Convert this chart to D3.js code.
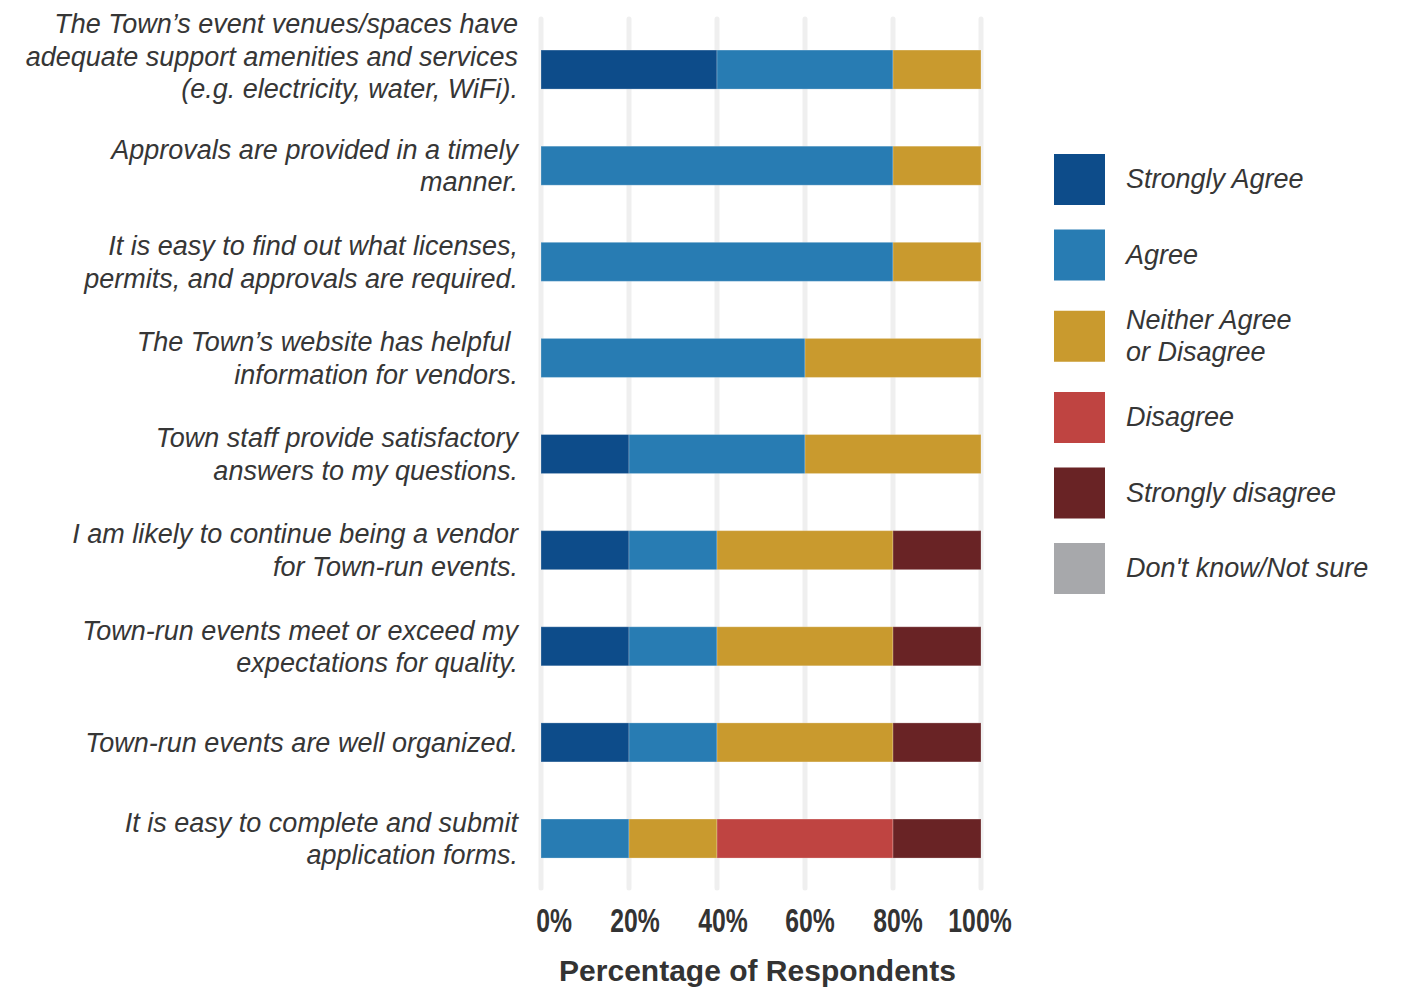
<!DOCTYPE html>
<html>
<head>
<meta charset="utf-8">
<script src="https://cdn.jsdelivr.net/npm/d3@7"></script>
<style>
  html, body { margin: 0; padding: 0; background: #ffffff; }
  svg { display: block; }
  .cat { font-family: "Liberation Sans", Arial, sans-serif; font-style: italic; font-size: 27px; fill: #363636; white-space: pre; }
  .leg { font-family: "Liberation Sans", Arial, sans-serif; font-style: italic; font-size: 27px; fill: #363636; }
  .tick-label { font-family: "Liberation Sans", Arial, sans-serif; font-weight: bold; font-size: 33px; fill: #333333; }
  .axis-title { font-family: "Liberation Sans", Arial, sans-serif; font-weight: bold; font-size: 30px; fill: #333333; }
</style>
</head>
<body>
<svg id="chart" width="1402" height="990"></svg>
<script>
// Survey statements, top to bottom (each entry is the wrapped lines of the label)
const categories = [
  ["The Town’s event venues/spaces have", "adequate support amenities and services", "(e.g. electricity, water, WiFi)."],
  ["Approvals are provided in a timely", "manner."],
  ["It is easy to find out what licenses,", "permits, and approvals are required."],
  ["The Town’s website has helpful ", "information for vendors."],
  ["Town staff provide satisfactory", "answers to my questions."],
  ["I am likely to continue being a vendor", "for Town-run events."],
  ["Town-run events meet or exceed my", "expectations for quality."],
  ["Town-run events are well organized."],
  ["It is easy to complete and submit", "application forms."]
];

// Response options (legend order) and their colours
const responses = ["Strongly Agree", "Agree", "Neither Agree or Disagree", "Disagree", "Strongly disagree", "Don't know/Not sure"];
const legendLines = [["Strongly Agree"], ["Agree"], ["Neither Agree", "or Disagree"], ["Disagree"], ["Strongly disagree"], ["Don't know/Not sure"]];
const colors = ["#0d4c8a", "#287cb3", "#c99a2e", "#bf4441", "#692325", "#a7a8ab"];

// Percentage of respondents for each response, one value per statement
const stronglyAgree    = [40,  0,  0,  0, 20, 20, 20, 20,  0];
const agree            = [40, 80, 80, 60, 40, 20, 20, 20, 20];
const neither          = [20, 20, 20, 40, 40, 40, 40, 40, 20];
const disagree         = [ 0,  0,  0,  0,  0,  0,  0,  0, 40];
const stronglyDisagree = [ 0,  0,  0,  0,  0, 20, 20, 20, 20];
const dontKnow         = [ 0,  0,  0,  0,  0,  0,  0,  0,  0];

const tickValues = [0, 20, 40, 60, 80, 100];
const tickLabels = ["0%", "20%", "40%", "60%", "80%", "100%"];

const seriesValues = [stronglyAgree, agree, neither, disagree, stronglyDisagree, dontKnow];
const rows = categories.map((lines, i) => {
  const r = { key: i, lines };
  responses.forEach((name, j) => { r[name] = seriesValues[j][i]; });
  return r;
});

const svg = d3.select("#chart");

const x = d3.scaleLinear().domain([0, 100]).range([541, 981]);
const y = d3.scaleBand()
  .domain(rows.map(d => d.key))
  .range([21.5, 886.6])
  .paddingInner(0.594)
  .paddingOuter(0.297);

// Vertical grid lines
svg.append("g")
  .selectAll("line")
  .data(tickValues)
  .join("line")
  .attr("x1", d => x(d)).attr("x2", d => x(d))
  .attr("y1", 19).attr("y2", 888)
  .attr("stroke", "#efefef")
  .attr("stroke-width", 5)
  .attr("stroke-linecap", "round");

// Stacked bars
const stacked = d3.stack().keys(responses)(rows);
const color = d3.scaleOrdinal().domain(responses).range(colors);

svg.append("g")
  .selectAll("g")
  .data(stacked)
  .join("g")
  .attr("fill", d => color(d.key))
  .selectAll("rect")
  .data(d => d.filter(s => s[1] - s[0] > 0))
  .join("rect")
  .attr("x", s => x(s[0]))
  .attr("width", s => x(s[1]) - x(s[0]))
  .attr("y", s => y(s.data.key))
  .attr("height", y.bandwidth())
  .attr("stroke", "rgba(255,255,255,0.25)")
  .attr("stroke-width", 1);

// Statement labels, right-aligned to the left of the bars.
// Blocks of up to two lines are centred on their bar; longer blocks sit higher.
const lineH = 32.5;
const catG = svg.append("g");
rows.forEach(r => {
  const cy = y(r.key) + y.bandwidth() / 2;
  const n = r.lines.length;
  let first = cy - (n - 1) / 2 * lineH + 9.5;
  if (n > 2) first -= (n - 2) * 13.5;
  const t = catG.append("text")
    .attr("class", "cat")
    .attr("text-anchor", "end");
  r.lines.forEach((ln, i) => {
    t.append("tspan").attr("x", 518).attr("y", first + i * lineH).text(ln);
  });
});

// Axis tick labels (condensed bold)
const tickNudge = [13, 6, 6, 5, 5, -1];
svg.append("g")
  .selectAll("text")
  .data(tickValues)
  .join("text")
  .attr("class", "tick-label")
  .attr("text-anchor", "middle")
  .attr("transform", (d, i) => `translate(${x(d) + tickNudge[i]},932) scale(0.75,1)`)
  .text((d, i) => tickLabels[i]);

svg.append("text")
  .attr("class", "axis-title")
  .attr("text-anchor", "middle")
  .attr("x", 757.5)
  .attr("y", 981)
  .text("Percentage of Respondents");

// Legend
const slotH = legendLines.map(l => l.length > 1 ? 87 : 75.5);
let cursor = 179.5 - slotH[0] / 2;
const legG = svg.append("g");
legendLines.forEach((lines, i) => {
  const cy = cursor + slotH[i] / 2;
  cursor += slotH[i];
  legG.append("rect")
    .attr("x", 1054).attr("y", cy - 25.5)
    .attr("width", 51).attr("height", 51)
    .attr("fill", colors[i]);
  const t = legG.append("text").attr("class", "leg");
  lines.forEach((ln, k) => {
    t.append("tspan")
      .attr("x", 1126)
      .attr("y", cy + 8.5 + (k - (lines.length - 1) / 2) * 32)
      .text(ln);
  });
});
</script>
</body>
</html>
